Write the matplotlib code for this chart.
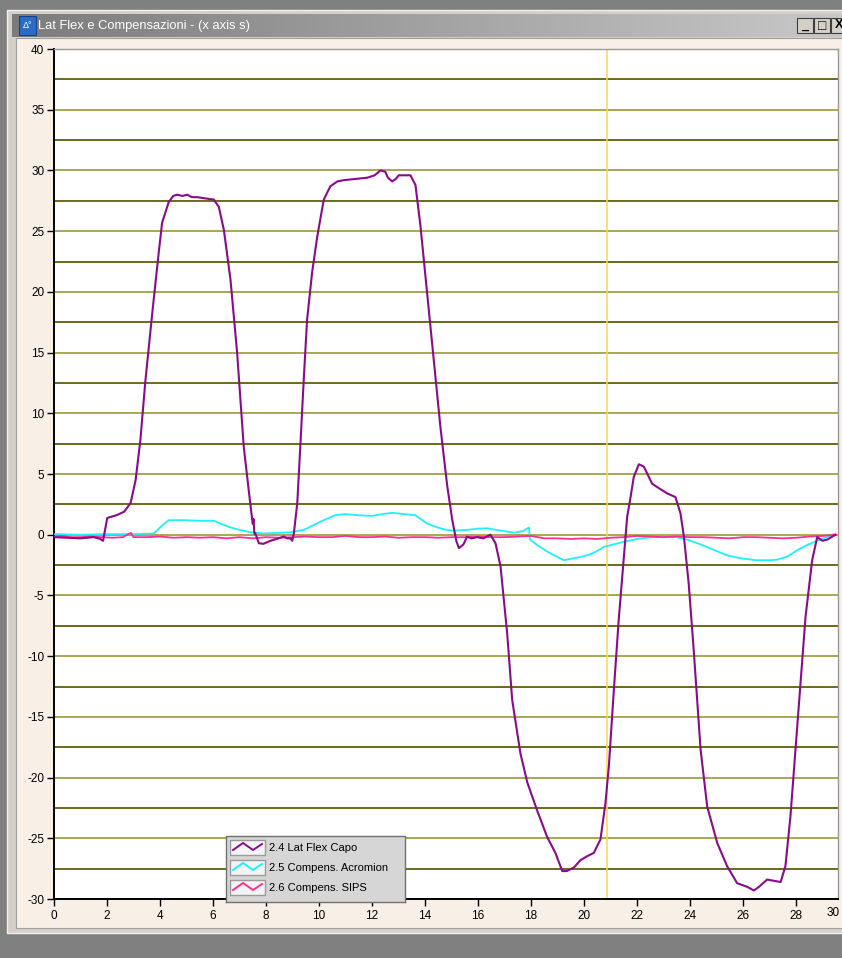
import numpy as np
import matplotlib
matplotlib.use("Agg")
import matplotlib.pyplot as plt
from matplotlib.patches import Rectangle
from matplotlib.lines import Line2D

# ---- data (time in s, angle in deg) ----
capo_x = [0.0, 0.5, 1.0, 1.5, 1.75, 1.85, 2.01, 2.38, 2.65, 2.89, 3.08, 3.26, 3.45, 3.71,
          3.95, 4.08, 4.33, 4.5, 4.65, 4.85, 5.03, 5.2, 5.4, 5.7, 6.03, 6.22, 6.41, 6.66,
          6.91, 7.16, 7.42, 7.5, 7.53, 7.56, 7.6, 7.73, 7.9, 8.17, 8.4, 8.67, 8.8, 8.92,
          8.99, 9.05, 9.18, 9.3, 9.43, 9.55, 9.74, 9.93, 10.18, 10.43, 10.7, 10.94, 11.4,
          11.82, 12.1, 12.32, 12.5, 12.6, 12.76, 12.9, 13.01, 13.45, 13.64, 13.83, 14.08,
          14.33, 14.58, 14.84, 15.03, 15.18, 15.28, 15.45, 15.59, 15.75, 15.97, 16.2,
          16.47, 16.66, 16.85, 17.1, 17.29, 17.6, 17.86, 18.23, 18.61, 18.92, 19.18,
          19.35, 19.62, 19.87, 20.1, 20.37, 20.62, 20.81, 20.94, 21.12, 21.31, 21.5,
          21.63, 21.75, 21.88, 22.07, 22.26, 22.57, 22.85, 23.14, 23.45, 23.64, 23.77,
          23.95, 24.14, 24.4, 24.65, 25.03, 25.4, 25.78, 26.16, 26.41, 26.6, 26.91,
          27.42, 27.6, 27.79, 27.98, 28.17, 28.36, 28.61, 28.8, 29.0, 29.18, 29.49]
capo_y = [-0.2, -0.25, -0.3, -0.2, -0.35, -0.5, 1.38, 1.62, 1.9, 2.61, 4.5, 7.8, 12.7, 18.3,
          23.2, 25.7, 27.4, 27.9, 28.0, 27.9, 28.0, 27.8, 27.8, 27.7, 27.6, 27.0, 25.1, 21.0,
          15.0, 7.25, 2.3, 0.9, 1.3, 0.1, 0.1, -0.7, -0.75, -0.5, -0.35, -0.15, -0.3, -0.3,
          -0.5, 0.1, 2.6, 7.5, 13.0, 17.7, 21.6, 24.5, 27.6, 28.7, 29.1, 29.2, 29.3,
          29.4, 29.6, 30.0, 29.9, 29.4, 29.1, 29.3, 29.6, 29.6, 28.8, 25.4, 19.9,
          14.4, 8.9, 4.0, 1.2, -0.5, -1.1, -0.8, -0.16, -0.3, -0.2, -0.3,
          0.0, -0.7, -2.6, -8.1, -13.6, -18.0, -20.4, -22.7, -24.9, -26.2, -27.7,
          -27.7, -27.4, -26.8, -26.5, -26.2, -25.1, -22.1, -19.0, -13.0, -7.0, -2.0,
          1.5, 3.0, 4.78, 5.8, 5.6, 4.2, 3.8, 3.4, 3.1, 1.76, -0.16,
          -4.0, -9.5, -17.7, -22.4, -25.4, -27.3, -28.7, -29.0, -29.3, -29.0, -28.4,
          -28.6, -27.3, -23.2, -17.7, -12.2, -6.75, -2.1, -0.2, -0.5, -0.4, 0.0]

acrom_x = [0.0, 1.0, 2.0, 3.0, 3.77, 4.05, 4.33, 4.9, 5.5, 6.03, 6.3, 6.66, 7.0, 7.42, 7.92,
           8.5, 8.92, 9.43, 9.8, 10.18, 10.6, 11.0, 11.5, 12.0, 12.4, 12.76, 13.2, 13.64,
           13.83, 14.1, 14.46, 14.8, 15.09, 15.6, 16.0, 16.35, 16.8, 17.35, 17.7, 17.92,
           17.96, 18.23, 18.7, 19.24, 19.7, 20.12, 20.45, 20.75, 21.38, 22.13, 22.6,
           23.14, 23.5, 23.89, 24.4, 24.9, 25.4, 25.91, 26.5, 27.04, 27.3, 27.67, 28.1,
           28.42, 28.92, 29.43]
acrom_y = [0.05, 0.0, 0.05, 0.05, 0.1, 0.7, 1.2, 1.2, 1.15, 1.15, 0.9, 0.6, 0.4, 0.2, 0.1,
           0.15, 0.2, 0.4, 0.8, 1.2, 1.6, 1.7, 1.6, 1.55, 1.7, 1.8, 1.7, 1.6,
           1.3, 0.9, 0.6, 0.4, 0.33, 0.4, 0.5, 0.53, 0.35, 0.17, 0.3, 0.6,
           -0.4, -0.85, -1.5, -2.1, -1.9, -1.7, -1.4, -1.0, -0.65, -0.3, -0.2,
           -0.16, -0.2, -0.4, -0.8, -1.25, -1.7, -1.94, -2.1, -2.1, -2.05, -1.8, -1.2,
           -0.85, -0.4, 0.05]

sips_x = [0.0, 0.3, 0.6, 1.0, 1.4, 1.8, 2.2, 2.6, 2.9, 3.0, 3.5, 4.0, 4.5, 5.0, 5.5, 6.0,
          6.5, 7.0, 7.5, 8.0, 8.5, 9.0, 9.5, 10.0, 10.5, 11.0, 11.5, 12.0, 12.5, 13.0,
          13.5, 14.0, 14.5, 15.0, 15.5, 16.0, 16.5, 17.0, 17.5, 18.0, 18.5, 19.0, 19.5,
          20.0, 20.5, 21.0, 21.5, 22.0, 22.5, 23.0, 23.5, 24.0, 24.5, 25.0, 25.5, 26.0,
          26.5, 27.0, 27.5, 28.0, 28.5, 29.0, 29.5]
sips_y = [-0.15, -0.1, -0.2, -0.2, -0.15, -0.2, -0.25, -0.2, 0.15, -0.2, -0.2, -0.15, -0.25,
          -0.2, -0.25, -0.2, -0.3, -0.2, -0.3, -0.2, -0.25, -0.2, -0.15, -0.2, -0.2, -0.1,
          -0.2, -0.2, -0.15, -0.25, -0.2, -0.2, -0.25, -0.2, -0.2, -0.15, -0.2, -0.2,
          -0.15, -0.1, -0.3, -0.3, -0.35, -0.3, -0.35, -0.25, -0.2, -0.1, -0.15, -0.2,
          -0.15, -0.2, -0.2, -0.25, -0.3, -0.2, -0.2, -0.25, -0.3, -0.25, -0.15, -0.1, 0.0]

series_names = ["2.4 Lat Flex Capo", "2.5 Compens. Acromion", "2.6 Compens. SIPS"]
series_colors = ["#8b0a8b", "#1ef0ff", "#ff2f8f"]
cursor_x = 20.85
window_title = "Lat Flex e Compensazioni - (x axis s)"

W, H = 842, 958
plt.rcParams['font.family'] = ['Liberation Sans', 'DejaVu Sans']
plt.rcParams['axes.unicode_minus'] = False
fig = plt.figure(figsize=(W / 100, H / 100), dpi=100)
fig.patch.set_facecolor("#808080")


def frect(x0, y0, x1, y1, z=-10, **kw):
    # rectangle in pixel coords (origin top-left)
    r = Rectangle((x0 / W, 1 - y1 / H), (x1 - x0) / W, (y1 - y0) / H,
                  transform=fig.transFigure, zorder=z, **kw)
    fig.patches.append(r)
    return r


def fax(x0, y0, x1, y1):
    return fig.add_axes([x0 / W, 1 - y1 / H, (x1 - x0) / W, (y1 - y0) / H])


# window frame
frect(7, 10, W + 5, 933, facecolor="#d4d0c8", edgecolor="#f0f0f0", lw=1)
frect(16, 38, W + 5, 928, facecolor="#f8efe6", edgecolor="#a0a0a0", lw=0.8)

# title bar gradient
tb = fax(12, 14, W, 37)
tb.imshow(np.linspace(0, 1, 256).reshape(1, -1), aspect="auto",
          cmap=matplotlib.colors.LinearSegmentedColormap.from_list("tb", ["#7c7c7c", "#c8c8c8"]),
          extent=[0, 1, 0, 1])
tb.set_axis_off()
frect(19, 16, 36, 35, z=5, facecolor="#2a6cc8", edgecolor="#1b3f80", lw=0.8)
fig.text(27.5 / W, 1 - 25.5 / H, "\u0394\u00b0", color="white", fontsize=6.5,
         ha="center", va="center", zorder=6)
fig.text(38 / W, 1 - 25.5 / H, window_title, color="white", fontsize=9.3,
         ha="left", va="center", zorder=6)
for bx, sym in [(797, "_"), (814, "\u25a1"), (831, "X")]:
    frect(bx, 18, bx + 16, 33, z=5, facecolor="#d4d0c8", edgecolor="#404040", lw=0.8)
    fig.text((bx + 8) / W, 1 - 25.5 / H, sym, fontsize=9 if sym != "\u25a1" else 10,
             ha="center", va="center", color="black", fontweight="bold", zorder=6)

# main plot
ax = fax(54, 49, 838, 899)
ax.set_facecolor("white")
ax.set_xlim(0, (838 - 54) / 26.5)
ax.set_ylim(-30, 40)

for v in np.arange(-27.5, 40, 2.5):
    c = "#a8a850" if v % 5 == 0 else "#6a6a18"
    ax.axhline(v, color=c, lw=1.4, zorder=1)

ax.axvline(cursor_x, color="#ffd54a", lw=1.1, zorder=2)

ax.plot(acrom_x, acrom_y, color=series_colors[1], lw=1.3, zorder=3)
ax.plot(sips_x, sips_y, color=series_colors[2], lw=1.3, zorder=4)
ax.plot(capo_x, capo_y, color=series_colors[0], lw=1.5, zorder=5)

ax.set_xticks(np.arange(0, 30, 2))
ax.set_yticks(np.arange(-30, 41, 5))
ax.tick_params(axis="both", direction="out", length=5, width=1, color="black",
               labelsize=8.5, pad=2)
ax.tick_params(axis="x", pad=3)
for s in ["left", "bottom"]:
    ax.spines[s].set_color("black")
    ax.spines[s].set_linewidth(1.4)
for s in ["top", "right"]:
    ax.spines[s].set_color("#9a9a9a")
    ax.spines[s].set_linewidth(1)
fig.text(833 / W, 1 - 913 / H, "30", fontsize=8.5, ha="center", va="center")

# legend box
lg = fax(226, 836, 405, 902)
lg.set_xlim(226, 405)
lg.set_ylim(902, 836)
lg.set_facecolor("#d6d6d6")
for s in lg.spines.values():
    s.set_linestyle((0, (1, 1)))
    s.set_color("#707070")
    s.set_linewidth(1)
lg.set_xticks([])
lg.set_yticks([])
for i, (name, col) in enumerate(zip(series_names, series_colors)):
    top = 840 + i * 20
    lg.add_patch(Rectangle((230, top), 35, 15, facecolor="#f4f4f4", edgecolor="#9a9a9a", lw=1))
    lg.add_line(Line2D([233, 243, 253, 262], [top + 10, top + 3, top + 10, top + 4],
                       color=col, lw=1.4))
    lg.text(269, top + 8, name, fontsize=8, va="center", ha="left")

fig.savefig("out.png", dpi=100)
